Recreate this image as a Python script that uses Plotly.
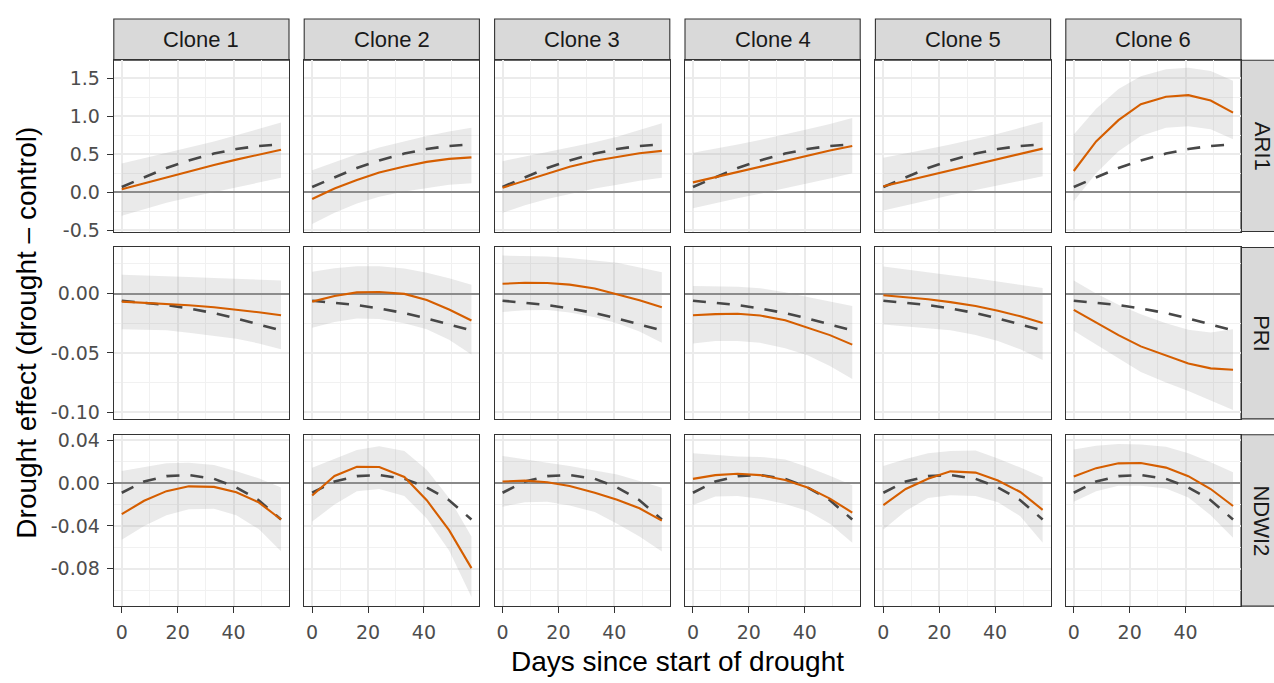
import plotly.graph_objects as go

# ---------------- data ----------------
days = [0, 8, 16, 24, 33, 41, 49, 57]
clones = ["Clone 1", "Clone 2", "Clone 3", "Clone 4", "Clone 5", "Clone 6"]
indices = ["ARI1", "PRI", "NDWI2"]

# overall (all-clone) drought effect, dashed line
ari1_mean = [0.07, 0.20, 0.32, 0.42, 0.51, 0.57, 0.61, 0.63]
pri_mean = [-0.006, -0.0078, -0.0097, -0.0125, -0.0165, -0.021, -0.026, -0.031]
ndwi2_mean = [-0.009, 0.0015, 0.0065, 0.0076, 0.004, -0.004, -0.016, -0.034]

# clone-specific fits (one list per clone)
ari1_fit = [
    [0.04, 0.12, 0.20, 0.28, 0.36, 0.43, 0.50, 0.56],
    [-0.09, 0.05, 0.16, 0.26, 0.34, 0.40, 0.44, 0.46],
    [0.06, 0.155, 0.25, 0.335, 0.415, 0.47, 0.515, 0.545],
    [0.13, 0.20, 0.27, 0.34, 0.41, 0.48, 0.55, 0.61],
    [0.08, 0.15, 0.22, 0.29, 0.37, 0.44, 0.51, 0.575],
    [0.28, 0.67, 0.95, 1.16, 1.26, 1.28, 1.21, 1.05],
]
ari1_lo = [
    [-0.31, -0.22, -0.14, -0.07, 0.00, 0.07, 0.13, 0.19],
    [-0.42, -0.27, -0.15, -0.06, 0.01, 0.06, 0.10, 0.12],
    [-0.27, -0.17, -0.09, -0.02, 0.05, 0.10, 0.15, 0.19],
    [-0.21, -0.14, -0.08, -0.02, 0.05, 0.11, 0.18, 0.25],
    [-0.24, -0.17, -0.10, -0.04, 0.03, 0.09, 0.15, 0.21],
    [-0.12, 0.25, 0.54, 0.74, 0.85, 0.87, 0.83, 0.70],
]
ari1_hi = [
    [0.38, 0.45, 0.52, 0.59, 0.67, 0.75, 0.83, 0.92],
    [0.29, 0.40, 0.50, 0.59, 0.67, 0.74, 0.80, 0.85],
    [0.41, 0.47, 0.53, 0.59, 0.66, 0.73, 0.82, 0.91],
    [0.52, 0.57, 0.63, 0.69, 0.76, 0.83, 0.90, 0.98],
    [0.455, 0.51, 0.57, 0.63, 0.70, 0.77, 0.85, 0.93],
    [0.76, 1.10, 1.36, 1.53, 1.62, 1.64, 1.60, 1.47],
]

pri_fit = [
    [-0.0068, -0.0076, -0.0086, -0.0098, -0.0115, -0.0135, -0.0158, -0.0183],
    [-0.0068, -0.002, 0.0010, 0.0013, -0.0003, -0.0055, -0.0135, -0.0227],
    [0.0082, 0.0091, 0.0089, 0.0075, 0.0042, -0.0006, -0.0057, -0.0115],
    [-0.0183, -0.0173, -0.017, -0.0185, -0.0225, -0.0285, -0.035, -0.043],
    [-0.0014, -0.0029, -0.0048, -0.0072, -0.0105, -0.0145, -0.0192, -0.0249],
    [-0.0137, -0.0245, -0.0350, -0.0445, -0.0525, -0.0590, -0.0630, -0.0642],
]
pri_lo = [
    [-0.030, -0.0302, -0.031, -0.033, -0.0355, -0.038, -0.042, -0.047],
    [-0.0287, -0.024, -0.021, -0.0215, -0.025, -0.030, -0.039, -0.0514],
    [-0.0156, -0.0140, -0.0138, -0.016, -0.020, -0.025, -0.032, -0.0415],
    [-0.042, -0.040, -0.040, -0.0415, -0.046, -0.052, -0.061, -0.072],
    [-0.026, -0.0275, -0.029, -0.031, -0.035, -0.040, -0.047, -0.056],
    [-0.0314, -0.043, -0.055, -0.066, -0.075, -0.082, -0.090, -0.098],
]
pri_hi = [
    [0.0158, 0.0153, 0.0147, 0.0140, 0.0130, 0.0122, 0.0115, 0.011],
    [0.0183, 0.0213, 0.023, 0.023, 0.021, 0.0175, 0.0128, 0.0074],
    [0.032, 0.0318, 0.0313, 0.030, 0.028, 0.026, 0.022, 0.018],
    [0.0063, 0.006, 0.0057, 0.0045, 0.001, -0.003, -0.0065, -0.0104],
    [0.0227, 0.0205, 0.018, 0.0155, 0.0128, 0.0100, 0.0072, 0.0046],
    [0.011, 0.0, -0.0095, -0.0175, -0.025, -0.0305, -0.0328, -0.030],
]

ndwi2_fit = [
    [-0.029, -0.0165, -0.0075, -0.003, -0.0035, -0.0085, -0.018, -0.034],
    [-0.0116, 0.0067, 0.0153, 0.015, 0.0058, -0.016, -0.044, -0.0795],
    [0.0015, 0.0023, 0.0008, -0.0027, -0.009, -0.0155, -0.0235, -0.035],
    [0.004, 0.0075, 0.0088, 0.0075, 0.003, -0.004, -0.0145, -0.0275],
    [-0.0205, -0.0055, 0.004, 0.011, 0.0098, 0.0024, -0.0083, -0.025],
    [0.0061, 0.014, 0.0185, 0.0188, 0.0145, 0.0065, -0.0055, -0.0214],
]
ndwi2_lo = [
    [-0.053, -0.040, -0.030, -0.0245, -0.024, -0.030, -0.043, -0.0636],
    [-0.036, -0.020, -0.0075, -0.0055, -0.012, -0.033, -0.063, -0.1064],
    [-0.022, -0.018, -0.0175, -0.021, -0.027, -0.038, -0.050, -0.064],
    [-0.0205, -0.0125, -0.012, -0.0145, -0.0195, -0.026, -0.038, -0.0557],
    [-0.0434, -0.026, -0.014, -0.0113, -0.012, -0.018, -0.031, -0.0557],
    [-0.0174, -0.0075, -0.0025, -0.0025, -0.005, -0.0135, -0.030, -0.051],
]
ndwi2_hi = [
    [0.0113, 0.015, 0.0185, 0.019, 0.017, 0.011, 0.0045, -0.004],
    [0.0144, 0.023, 0.031, 0.0345, 0.030, 0.0125, -0.014, -0.0498],
    [0.0254, 0.022, 0.019, 0.016, 0.012, 0.008, 0.002, -0.0043],
    [0.028, 0.0265, 0.025, 0.0245, 0.022, 0.015, 0.007, -0.002],
    [0.016, 0.0225, 0.028, 0.030, 0.0305, 0.023, 0.0145, 0.0055],
    [0.0315, 0.035, 0.0365, 0.0362, 0.034, 0.028, 0.0195, 0.0101],
]

# axis ticks
x_ticks = [0, 20, 40]
x_ticktext = ["0", "20", "40"]
x_minor = [10, 30, 50]
ari1_ticks = [-0.5, 0.0, 0.5, 1.0, 1.5]
ari1_ticktext = ["-0.5", "0.0", "0.5", "1.0", "1.5"]
ari1_minor = [-0.25, 0.25, 0.75, 1.25]
pri_ticks = [-0.10, -0.05, 0.00]
pri_ticktext = ["-0.10", "-0.05", "0.00"]
pri_minor = [-0.075, -0.025, 0.025]
ndwi2_ticks = [-0.08, -0.04, 0.00, 0.04]
ndwi2_ticktext = ["-0.08", "-0.04", "0.00", "0.04"]
ndwi2_minor = [-0.10, -0.06, -0.02, 0.02]

x_title = "Days since start of drought"
y_title = "Drought effect (drought \u2013 control)"

# ---------------- layout geometry (pixels) ----------------
W, H = 1274, 683
FONT = "Liberation Sans, Arial, Helvetica, sans-serif"
TICK_FONT = "DejaVu Sans, Liberation Sans, sans-serif"
PANEL_L0, PANEL_W, PANEL_DX = 113.8, 175.2, 190.4
PANEL_T0, PANEL_H, PANEL_DY = 55.4, 175.2, 191.5
STRIP_TOP = 13.3
STRIP_RW = 42.0

rows = [
    dict(mean=ari1_mean, fit=ari1_fit, lo=ari1_lo, hi=ari1_hi, rng=[-0.518, 1.741],
         ticks=ari1_ticks, ticktext=ari1_ticktext, minor=ari1_minor),
    dict(mean=pri_mean, fit=pri_fit, lo=pri_lo, hi=pri_hi, rng=[-0.1055, 0.0388],
         ticks=pri_ticks, ticktext=pri_ticktext, minor=pri_minor),
    dict(mean=ndwi2_mean, fit=ndwi2_fit, lo=ndwi2_lo, hi=ndwi2_hi, rng=[-0.1150, 0.0452],
         ticks=ndwi2_ticks, ticktext=ndwi2_ticktext, minor=ndwi2_minor),
]

ORANGE = "#D55E00"
DASH_COL = "#474747"
RIBBON = "rgba(150,150,150,0.20)"
GRID = "#EBEBEB"
MINOR_GRID = "#F1F1F1"
BORDER = "#333333"
TICK_SIZE = 19

fig = go.Figure()
layout = dict(
    width=W, height=H,
    margin=dict(l=0, r=0, t=0, b=0),
    paper_bgcolor="white", plot_bgcolor="white",
    showlegend=False,
    font=dict(family=FONT, size=TICK_SIZE, color="#4D4D4D"),
)
shapes, annotations = [], []

def px_x(p):
    return p / W

def px_y(p):
    return 1 - p / H

for r, row in enumerate(rows):
    top = PANEL_T0 + r * PANEL_DY
    bot = top + PANEL_H
    for c in range(6):
        k = r * 6 + c + 1
        sfx = "" if k == 1 else str(k)
        left = PANEL_L0 + c * PANEL_DX
        right = left + PANEL_W
        xa, ya = "x" + sfx, "y" + sfx
        # ribbon
        fig.add_trace(go.Scatter(x=days, y=row["lo"][c], xaxis=xa, yaxis=ya, mode="lines",
                                 line=dict(width=0, color=RIBBON), hoverinfo="skip"))
        fig.add_trace(go.Scatter(x=days, y=row["hi"][c], xaxis=xa, yaxis=ya, mode="lines",
                                 line=dict(width=0, color=RIBBON), fill="tonexty",
                                 fillcolor=RIBBON, hoverinfo="skip"))
        # overall mean (dashed)
        fig.add_trace(go.Scatter(x=days, y=row["mean"], xaxis=xa, yaxis=ya, mode="lines",
                                 line=dict(color=DASH_COL, width=2.6, dash="13px,11px")))
        # clone fit
        fig.add_trace(go.Scatter(x=days, y=row["fit"][c], xaxis=xa, yaxis=ya, mode="lines",
                                 line=dict(color=ORANGE, width=2.1)))

        bottom_row = r == 2
        first_col = c == 0
        layout["xaxis" + sfx] = dict(
            domain=[px_x(left), px_x(right)], anchor=ya, range=[-2.85, 59.85],
            tickmode="array", tickvals=x_ticks, ticktext=x_ticktext,
            showticklabels=bottom_row, ticks="outside" if bottom_row else "",
            ticklen=6, tickwidth=1.1, tickcolor=BORDER, ticklabelstandoff=3,
            tickfont=dict(size=TICK_SIZE, color="#4D4D4D", family=TICK_FONT),
            showgrid=True, gridcolor=GRID, gridwidth=1.7, zeroline=False,
            minor=dict(tickmode="array", tickvals=x_minor, showgrid=True,
                       gridcolor=MINOR_GRID, gridwidth=1.0, ticks=""),
            showline=True, linecolor=BORDER, linewidth=1.1, mirror=True,
            fixedrange=True,
        )
        layout["yaxis" + sfx] = dict(
            domain=[px_y(bot), px_y(top)], anchor=xa, range=row["rng"],
            tickmode="array", tickvals=row["ticks"], ticktext=row["ticktext"],
            showticklabels=first_col, ticks="outside" if first_col else "",
            ticklen=6, tickwidth=1.1, tickcolor=BORDER, ticklabelstandoff=3,
            tickfont=dict(size=TICK_SIZE, color="#4D4D4D", family=TICK_FONT),
            showgrid=True, gridcolor=GRID, gridwidth=1.7,
            zeroline=True, zerolinecolor="#8A8A8A", zerolinewidth=1.5,
            minor=dict(tickmode="array", tickvals=row["minor"], showgrid=True,
                       gridcolor=MINOR_GRID, gridwidth=1.0, ticks=""),
            showline=True, linecolor=BORDER, linewidth=1.1, mirror=True,
            fixedrange=True,
        )

        # top strips
        if r == 0:
            shapes.append(dict(type="rect", xref="paper", yref="paper",
                               x0=px_x(left), x1=px_x(right),
                               y0=px_y(top), y1=px_y(STRIP_TOP),
                               fillcolor="#D9D9D9", line=dict(color=BORDER, width=1.1),
                               layer="below"))
            annotations.append(dict(text=clones[c], xref="paper", yref="paper",
                                    x=px_x((left + right) / 2), y=px_y((top + STRIP_TOP) / 2),
                                    showarrow=False, xanchor="center", yanchor="middle",
                                    font=dict(size=22, color="#1A1A1A", family=FONT)))
        # right strips
        if c == 5:
            shapes.append(dict(type="rect", xref="paper", yref="paper",
                               x0=px_x(right), x1=px_x(right + STRIP_RW),
                               y0=px_y(bot), y1=px_y(top),
                               fillcolor="#D9D9D9", line=dict(color=BORDER, width=1.1),
                               layer="below"))
            annotations.append(dict(text=indices[r], xref="paper", yref="paper",
                                    x=px_x(right + 21.0), y=px_y((top + bot) / 2),
                                    showarrow=False, textangle=90,
                                    xanchor="center", yanchor="middle",
                                    font=dict(size=22, color="#1A1A1A", family=FONT)))

annotations.append(dict(text=x_title, xref="paper", yref="paper",
                        x=px_x(PANEL_L0 + (5 * PANEL_DX + PANEL_W) / 2), y=px_y(670),
                        showarrow=False, xanchor="center", yanchor="middle",
                        font=dict(size=28, color="black", family=FONT)))
annotations.append(dict(text=y_title, xref="paper", yref="paper",
                        x=px_x(27), y=px_y(334), textangle=-90,
                        showarrow=False, xanchor="center", yanchor="middle",
                        font=dict(size=28, color="black", family=FONT)))

layout["shapes"] = shapes
layout["annotations"] = annotations
fig.update_layout(**layout)
fig.write_html(
    "out.html",
    config={"displayModeBar": False},
    post_script="document.body.style.margin='0px';document.body.style.overflow='hidden';",
)
